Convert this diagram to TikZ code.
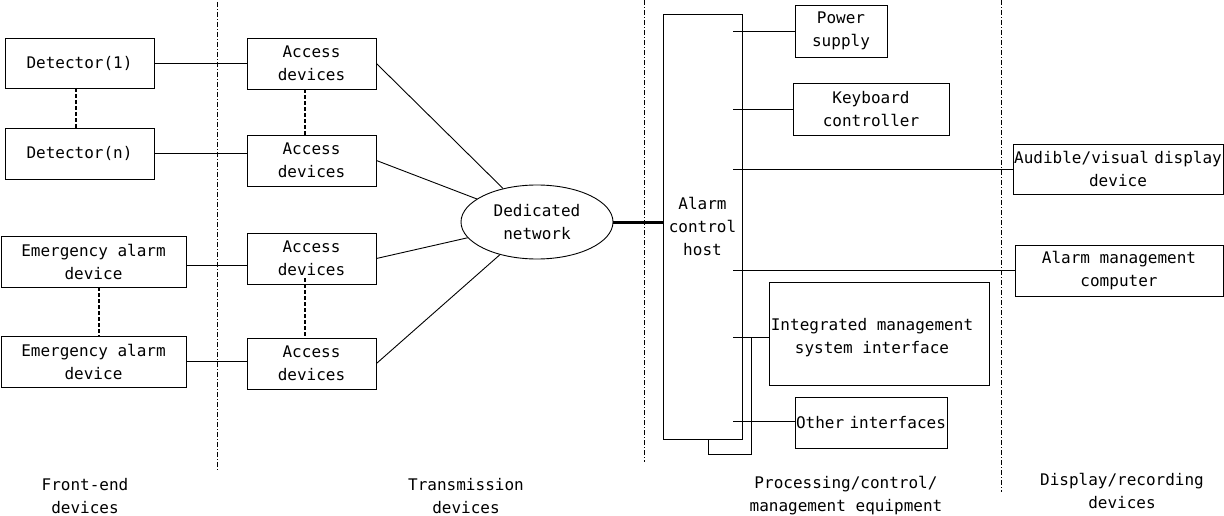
\documentclass[tikz,border=0pt]{standalone}
\usepackage{fontspec}
\setmainfont{DejaVu Sans Mono}
\usetikzlibrary{shapes.geometric,calc}
\begin{document}
\begin{tikzpicture}[x=1pt,y=-1pt,
  every node/.style={font=\fontsize{16}{23}\selectfont, text=black},
  box/.style={draw, line width=0.9pt, inner sep=0pt, align=center},
  conn/.style={line width=0.9pt},
  dotconn/.style={line width=1.6pt, dash pattern=on 4pt off 2pt},
  divider/.style={line width=0.9pt, dash pattern=on 5pt off 2pt on 1pt off 2pt},
  lbl/.style={align=center, inner sep=0pt}]
\useasboundingbox (0,0) rectangle (1224,516);
% dividers
\draw[divider] (217,2) -- (217,470);
\draw[divider] (644,0) -- (644,462);
\draw[divider] (1001,0) -- (1001,492);
% front-end
\node[box, minimum width=149pt, minimum height=50pt] (d1) at (79.5,63) {Detector(1)};
\node[box, minimum width=149pt, minimum height=51pt] (dn) at (79.5,153.5) {Detector(n)};
\node[box, minimum width=185pt, minimum height=51pt] (e1) at (93.5,261.5) {Emergency alarm\\device};
\node[box, minimum width=185pt, minimum height=51pt] (e2) at (93.5,361.5) {Emergency alarm\\device};
% access
\node[box, minimum width=129pt, minimum height=51pt] (a1) at (311.5,63.5) {Access\\devices};
\node[box, minimum width=129pt, minimum height=51pt] (a2) at (311.5,160.5) {Access\\devices};
\node[box, minimum width=129pt, minimum height=51pt] (a3) at (311.5,258.5) {Access\\devices};
\node[box, minimum width=129pt, minimum height=51pt] (a4) at (311.5,363.5) {Access\\devices};
% network
\node[box, ellipse, minimum width=152pt, minimum height=74pt] (net) at (537,222) {Dedicated\\network};
% host
\node[box, minimum width=79pt, minimum height=425pt] (host) at (702.5,226.5) {Alarm\\control\\host};
% peripherals
\node[box, minimum width=92pt, minimum height=52pt] (ps) at (841,31) {Power\\supply};
\node[box, minimum width=156pt, minimum height=52pt] (kb) at (871,109) {Keyboard\\controller};
\node[box, text width=210pt, minimum height=50pt] (av) at (1118,169) {\mbox{Audible/visual display}\\device};
\node[box, minimum width=208pt, minimum height=51pt] (am) at (1119,270.5) {Alarm management\\computer};
\node[box, minimum width=220pt, minimum height=103pt] (im) at (879,333.5) {};
\node[lbl] (imt) at (872,338) {Integrated management\\system interface};
\node[box, text width=152pt, minimum height=51pt] (oi) at (871,422.5) {\mbox{Other interfaces}};
% connectors front-end to access
\draw[conn] (d1.east) -- (d1.east -| a1.west);
\draw[conn] (dn.east) -- (dn.east -| a2.west);
\draw[conn] ([yshift=-4pt]e1.east) -- ([yshift=-4pt]e1.east -| a3.west);
\draw[conn] (e2.east) -- (e2.east -| a4.west);
\draw[dotconn] (76,88) -- (76,128);
\draw[dotconn] (99,287) -- (99,336);
\coordinate (ac) at (305,0);
\draw[dotconn] (ac |- a1.south) -- (ac |- a2.north);
\draw[dotconn] ([yshift=6pt]ac |- a3.south) -- (ac |- a4.north);
% access to network
\draw[conn] (a1.east) -- (net);
\draw[conn] (a2.east) -- (net);
\draw[conn] (a3.east) -- (net);
\draw[conn] (a4.east) -- (net);
% network to host
\draw[line width=3pt] (net.east) -- (net.east -| host.west);
% host to peripherals
\coordinate (hx) at ([xshift=-9pt]host.east);
\draw[conn] (hx |- ps.west) -- (ps.west);
\draw[conn] (hx |- kb.west) -- (kb.west);
\draw[conn] (hx |- av.west) -- (av.west);
\draw[conn] (hx |- am.west) -- (am.west);
\coordinate (imj) at (769,337);
\draw[conn] (hx |- imj) -- (imj);
\coordinate (oij) at (795,421);
\draw[conn] (hx |- oij) -- (oij);
\coordinate (lpa) at (751,337);
\coordinate (lpb) at (708,454);
\draw[conn] (lpa) |- (lpb) -- (lpb |- host.south);
% bottom labels
\node[lbl] (l1) at (85,496) {Front-end\\devices};
\node[lbl] (l2) at (466,496) {Transmission\\devices};
\node[lbl] (l3) at (846,496) {Processing/control/\\management equipment};
\node[lbl] (l4) at (1122,491) {Display/recording\\devices};
\end{tikzpicture}
\end{document}
